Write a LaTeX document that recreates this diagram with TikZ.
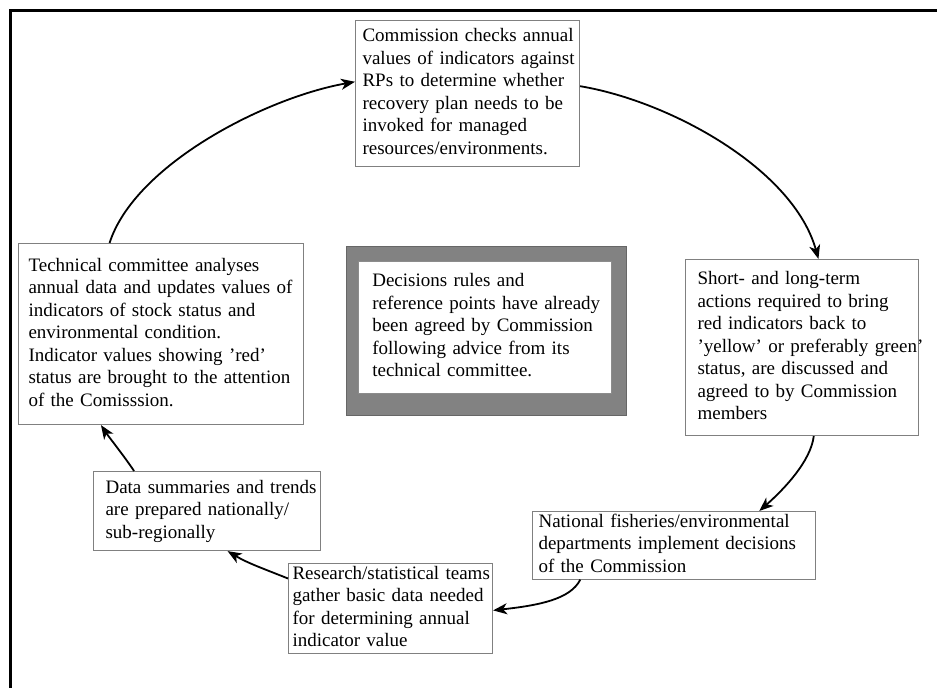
\documentclass[tikz,border=0pt]{standalone}
\usepackage{fontspec}
\setmainfont{Liberation Serif}
\usetikzlibrary{arrows.meta,calc}
\definecolor{boxgrey}{RGB}{128,128,128}
\definecolor{framegrey}{RGB}{130,130,130}
\newcommand{\rows}[1]{\begin{tabular}{@{}l@{}}#1\end{tabular}}

\begin{document}
\begin{tikzpicture}[x=1pt,y=-1pt,
  stepbox/.style={draw=boxgrey,line width=1.1pt,fill=white,anchor=north west,
    font=\fontsize{19}{22.5}\selectfont,align=left,inner ysep=0pt},
  flow/.style={line width=1.8pt,-{Stealth[length=14pt,width=11pt,inset=4pt]}}]

\useasboundingbox[fill=white] (0,0) rectangle (937,688);

% outer frame (top and left edges)
\draw[line width=2.4pt] (10.5,700) -- (10.5,10.5) -- (950,10.5);

% cycle steps
\node[stepbox,text width=210pt,inner xsep=7pt,minimum height=146pt] (check) at (355,20)
  {\rows{Commission checks annual\\ values of indicators against\\ RPs to determine whether\\
   recovery plan needs to be\\ invoked for managed\\ resources/environments.}};

\node[stepbox,text width=209pt,inner xsep=12pt,minimum height=176pt] (act) at (685,259)
  {\rows{Short- and long-term\\ actions required to bring\\ red indicators back to\\
   'yellow' or preferably green'\\ status, are discussed and\\ agreed to by Commission\\ members}};

\node[stepbox,text width=271pt,inner xsep=6pt,minimum height=67pt] (natl) at (532,511)
  {\rows{National fisheries/environmental\\ departments implement decisions\\ of the Commission}};

\node[stepbox,text width=196pt,inner xsep=4pt,minimum height=87pt] (rsch) at (288,563)
  {\rows{Research/statistical teams\\ gather basic data needed\\ for determining annual\\ indicator value}};

\node[stepbox,text width=203pt,inner xsep=12pt,minimum height=79pt] (data) at (93,471)
  {\rows{Data summaries and trends\\ are prepared nationally/\\ sub-regionally}};

\node[stepbox,text width=265pt,inner xsep=10pt,minimum height=181pt] (tech) at (18,243)
  {\rows{Technical committee analyses\\ annual data and updates values of\\ indicators of stock status and\\
   environmental condition.\\ Indicator values showing 'red'\\ status are brought to the attention\\ of the Comisssion.}};

% central note in a grey frame
\node[draw=black!60,line width=0.8pt,fill=framegrey,anchor=north west,
  minimum width=280pt,minimum height=169pt,inner sep=0pt] (rulesframe) at (346,246) {};
\node[stepbox,draw=black!45,line width=0.6pt,text width=225pt,inner xsep=14pt,minimum height=132pt] (rules) at (358,261)
  {\rows{Decisions rules and\\ reference points have already\\ been agreed by Commission\\
   following advice from its\\ technical committee.}};

% connectors around the cycle
\draw[flow] ($(tech.north west)!0.32!(tech.north east)$)
  .. controls +(25,-78) and +(-90,16) .. ($(check.north west)!0.42!(check.south west)$);
\draw[flow] ($(check.north east)!0.45!(check.south east)$)
  .. controls +(90,15) and +(-25,-90) .. ($(act.north west)!0.57!(act.north east)$);
\draw[flow] ($(act.south west)!0.55!(act.south east)$)
  .. controls +(-3,25) and +(25,-22) .. ($(natl.north west)!0.80!(natl.north east)$);
\draw[flow] ($(natl.south west)!0.17!(natl.south east)$)
  .. controls +(-10,20) and +(45,-5) .. ($(rsch.north east)!0.52!(rsch.south east)$);
\draw[flow] ($(rsch.north west)!0.17!(rsch.south west)$)
  .. controls +(-25,-10) and +(20,12) .. ($(data.south west)!0.59!(data.south east)$);
\draw[flow] ($(data.north west)!0.18!(data.north east)$)
  .. controls +(-10,-15) and +(8,12) .. ($(tech.south west)!0.29!(tech.south east)$);

\end{tikzpicture}
\end{document}
